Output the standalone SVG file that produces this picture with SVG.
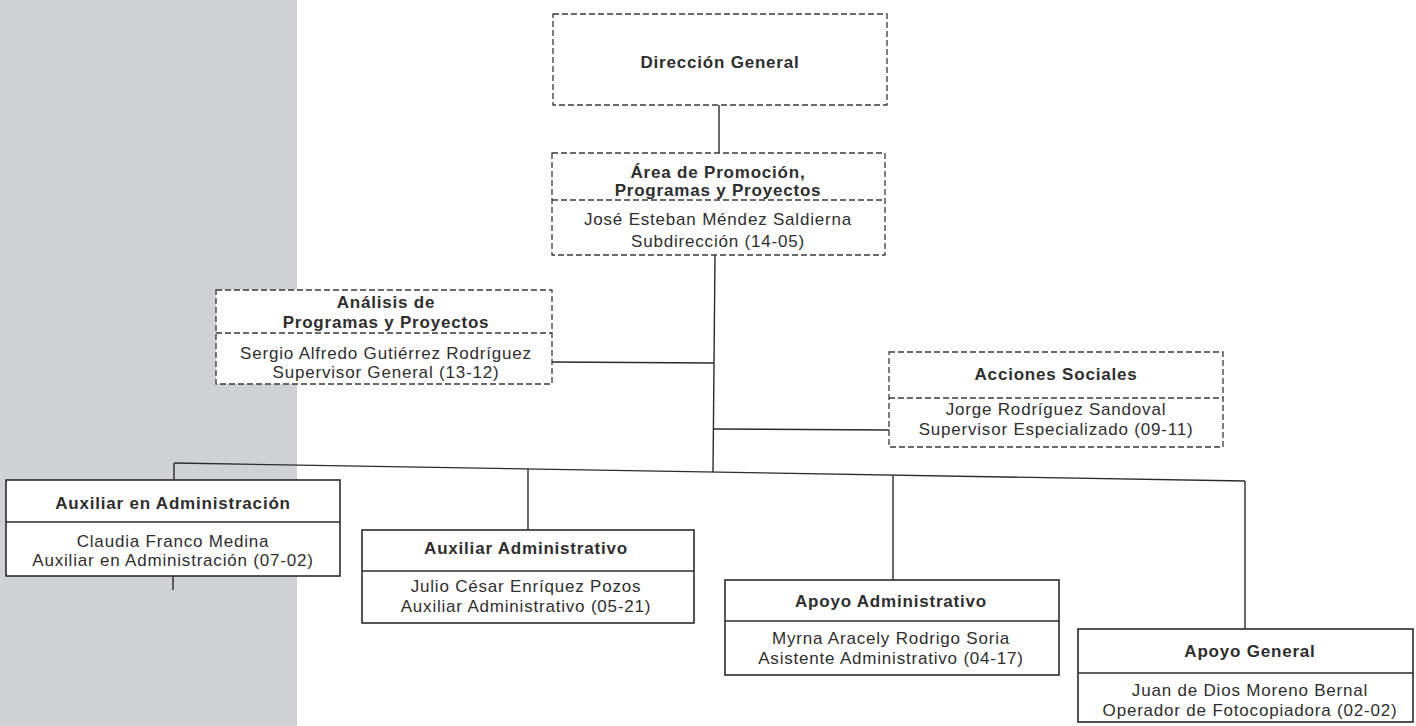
<svg xmlns="http://www.w3.org/2000/svg" width="1416" height="726" viewBox="0 0 1416 726">
<style>
.dash{fill:#fff;stroke:#3a3a3a;stroke-width:1.3;stroke-dasharray:6 3}
.dl{stroke:#3a3a3a;stroke-width:1.3;stroke-dasharray:6 3}
.solid{fill:#fff;stroke:#2b2b2b;stroke-width:1.6}
.sl{stroke:#2b2b2b;stroke-width:1.6}
.t{font-family:"Liberation Sans",Arial,sans-serif;font-size:17px;fill:#2e2e2e;text-anchor:middle;letter-spacing:0.8px}
.b{font-weight:bold}
.conn line{stroke:#2b2b2b;stroke-width:1.4}
</style>
<rect x="0" y="0" width="1416" height="726" fill="#ffffff"/>
<rect id="band" x="0" y="0" width="297" height="726" fill="#d0d1d5"/>
<g id="connectors" class="conn">
<line x1="719" y1="105" x2="719" y2="153"/>
<line x1="715" y1="255" x2="713" y2="472"/>
<line x1="552" y1="362" x2="714" y2="363"/>
<line x1="714" y1="429" x2="889" y2="430"/>
<line x1="174" y1="463" x2="1245" y2="481"/>
<line x1="174" y1="463" x2="174" y2="480"/>
<line x1="528" y1="469" x2="528" y2="530"/>
<line x1="893" y1="475" x2="893" y2="580"/>
<line x1="1245" y1="481" x2="1245" y2="629"/>
<line x1="173" y1="576" x2="173" y2="590"/>
</g>
<g id="n-direccion">
<rect class="dash" x="553" y="14" width="334" height="91"/>
<text class="t b" x="720" y="68">Dirección General</text>
</g>
<g id="n-area">
<rect class="dash" x="552" y="153" width="333" height="102"/>
<line class="dl" x1="552" y1="200" x2="885" y2="200"/>
<text class="t b" x="718" y="178">Área de Promoción,</text>
<text class="t b" x="718" y="196">Programas y Proyectos</text>
<text class="t" x="718" y="225">José Esteban Méndez Saldierna</text>
<text class="t" x="718" y="247">Subdirección (14-05)</text>
</g>
<g id="n-analisis">
<rect class="dash" x="216" y="290" width="336" height="94"/>
<line class="dl" x1="216" y1="333" x2="552" y2="333"/>
<text class="t b" x="386" y="308">Análisis de</text>
<text class="t b" x="386" y="328">Programas y Proyectos</text>
<text class="t" x="386" y="359">Sergio Alfredo Gutiérrez Rodríguez</text>
<text class="t" x="386" y="378">Supervisor General (13-12)</text>
</g>
<g id="n-acciones">
<rect class="dash" x="889" y="352" width="334" height="95"/>
<line class="dl" x1="889" y1="398" x2="1223" y2="398"/>
<text class="t b" x="1056" y="380">Acciones Sociales</text>
<text class="t" x="1056" y="415">Jorge Rodríguez Sandoval</text>
<text class="t" x="1056" y="435">Supervisor Especializado (09-11)</text>
</g>
<g id="n-aux-administracion">
<rect class="solid" x="6" y="480" width="334" height="96"/>
<line class="sl" x1="6" y1="522" x2="340" y2="522"/>
<text class="t b" x="173" y="509">Auxiliar en Administración</text>
<text class="t" x="173" y="547">Claudia Franco Medina</text>
<text class="t" x="173" y="566">Auxiliar en Administración (07-02)</text>
</g>
<g id="n-aux-administrativo">
<rect class="solid" x="362" y="530" width="332" height="93"/>
<line class="sl" x1="362" y1="571" x2="694" y2="571"/>
<text class="t b" x="526" y="554">Auxiliar Administrativo</text>
<text class="t" x="526" y="592">Julio César Enríquez Pozos</text>
<text class="t" x="526" y="612">Auxiliar Administrativo (05-21)</text>
</g>
<g id="n-apoyo-administrativo">
<rect class="solid" x="725" y="580" width="334" height="95"/>
<line class="sl" x1="725" y1="621" x2="1059" y2="621"/>
<text class="t b" x="891" y="607">Apoyo Administrativo</text>
<text class="t" x="891" y="644">Myrna Aracely Rodrigo Soria</text>
<text class="t" x="891" y="664">Asistente Administrativo (04-17)</text>
</g>
<g id="n-apoyo-general">
<rect class="solid" x="1078" y="629" width="335" height="93"/>
<line class="sl" x1="1078" y1="673" x2="1413" y2="673"/>
<text class="t b" x="1250" y="657">Apoyo General</text>
<text class="t" x="1250" y="696">Juan de Dios Moreno Bernal</text>
<text class="t" x="1250" y="716">Operador de Fotocopiadora (02-02)</text>
</g>
</svg>
